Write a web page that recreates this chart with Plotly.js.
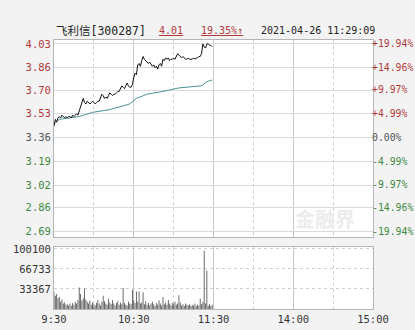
<!DOCTYPE html>
<html>
<head>
<meta charset="utf-8">
<script src="https://cdn.plot.ly/plotly-3.0.1.min.js"></script>
<style>html,body{margin:0;padding:0;background:#f3f3f3;}#chart{width:415px;height:330px;}</style>
</head>
<body>
<div id="chart"></div>
<script>
// ---- data ----
const stockName = "飞利信[300287]";
const lastPrice = "4.01";
const changePct = "19.35%↑";
const timestamp = "2021-04-26 11:29:09";
const preClose = 3.36;

// minutes since 9:30 (trading minutes; 120 = 11:30/13:00, 240 = 15:00)
const priceMin = [0,1,2,3,4,5,6,7,8,9,10,11,12,13,14,15,16,17,18,19,
  20,21,22,23,24,25,26,27,28,29,30,31,32,33,34,35,36,37,38,39,
  40,41,42,43,44,45,46,47,48,49,50,51,52,53,54,55,56,57,58,59,
  60,61,62,63,64,65,66,67,68,69,70,71,72,73,74,75,76,77,78,79,
  80,81,82,83,84,85,86,87,88,89,90,91,92,93,94,95,96,97,98,99,
  100,101,102,103,104,105,106,107,108,109,110,111,112,113,114,115,116,117,118,119];
const priceVal = [3.44,3.49,3.47,3.50,3.51,3.50,3.52,3.51,3.50,3.51,
  3.50,3.51,3.51,3.50,3.52,3.51,3.52,3.53,3.52,3.55,
  3.57,3.60,3.64,3.61,3.60,3.62,3.61,3.60,3.61,3.62,
  3.61,3.60,3.61,3.62,3.62,3.65,3.67,3.66,3.64,3.65,
  3.64,3.66,3.68,3.67,3.66,3.67,3.67,3.68,3.69,3.69,
  3.71,3.73,3.72,3.71,3.73,3.75,3.73,3.72,3.72,3.74,
  3.79,3.82,3.81,3.88,3.89,3.87,3.91,3.94,3.92,3.91,
  3.90,3.89,3.90,3.88,3.87,3.88,3.86,3.87,3.85,3.88,
  3.89,3.87,3.92,3.91,3.93,3.92,3.93,3.91,3.92,3.92,
  3.93,3.92,3.94,3.96,3.95,3.94,3.93,3.94,3.93,3.92,
  3.92,3.93,3.92,3.92,3.92,3.93,3.92,3.93,3.93,3.94,
  3.94,3.96,4.03,4.01,4.00,4.03,4.03,4.02,4.02,4.01];

const avgMin = [0,4,19,29,42,57,62,70,82,94,111,115,118,119];
const avgVal = [3.46,3.49,3.51,3.54,3.56,3.60,3.64,3.67,3.69,3.715,3.73,3.76,3.77,3.77];

const volMin = Array.from({length:120}, (_, i) => i);
const volVal = [
28000,22000,25000,18000,20000,
12000,16000,9000,11000,7000,
8000,6000,9000,5000,10000,
7000,12000,9000,15000,36000,
25000,14000,18000,34000,16000,
12000,9000,14000,7000,11000,
8000,6000,10000,15000,9000,
6000,12000,22000,13000,9000,
7000,17000,11000,8000,15000,
9000,6000,10000,13000,7000,
11000,8000,35000,10000,7000,
6000,12000,9000,8000,32000,
14000,10000,29000,12000,29000,
9000,11000,28000,8000,13000,
7000,10000,6000,9000,12000,
8000,5000,10000,7000,14000,
9000,6000,20000,8000,11000,
7000,15000,9000,6000,10000,
8000,12000,7000,9000,23000,
11000,6000,8000,5000,9000,
7000,6000,8000,5000,7000,
6000,9000,5000,7000,6000,
17000,8000,12000,97000,9000,
64000,6000,8000,5000,7000];

const priceTicks = [4.03,3.86,3.70,3.53,3.36,3.19,3.02,2.86,2.69];
const priceTickText = ["4.03","3.86","3.70","3.53","3.36","3.19","3.02","2.86","2.69"];
const pctTickText = ["+19.94%","+14.96%","+9.97%","+4.99%","0.00%","-4.99%","-9.97%","-14.96%","-19.94%"];
const volTicks = [33367,66733,100100];
const volTickText = ["33367","66733","100100"];
const timeTicks = [0,60,120,180,240];
const timeTickText = ["9:30","10:30","11:30","14:00","15:00"];
const halfHourTicks = [30,90,150,210];

// ---- styling ----
const RED = "#b23a3a", GREEN = "#3f8a3f", GREY = "#555";
function colorFor(v){ return v > preClose + 1e-9 ? RED : (v < preClose - 1e-9 ? GREEN : GREY); }
const leftText = priceTicks.map((v,i)=>`<span style="color:${colorFor(v)}">${priceTickText[i]}</span>`);
const rightText = priceTicks.map((v,i)=>`<span style="color:${colorFor(v)}">${pctTickText[i]}</span>`);

const MONO = "DejaVu Sans Mono, Noto Sans CJK SC, monospace";
const tickFont = {family: MONO, size: 10.5, color: "#333"};

const traces = [
  {x: avgMin, y: avgVal, type: "scatter", mode: "lines", line: {color: "#4a9494", width: 1}, xaxis: "x", yaxis: "y", hoverinfo: "skip"},
  {x: priceMin, y: priceVal, type: "scatter", mode: "lines", line: {color: "#111", width: 1}, xaxis: "x", yaxis: "y", hoverinfo: "skip"},
  {x: [0], y: [preClose], type: "scatter", mode: "markers", marker: {opacity: 0}, xaxis: "x", yaxis: "y3", hoverinfo: "skip"},
  {x: volMin, y: volVal, type: "bar", marker: {color: "#555", line: {width: 0}}, xaxis: "x2", yaxis: "y2", hoverinfo: "skip"}
];

const gridSolid = "#c8c8c8", gridDot = "#cfcfcf";
const commonX = {
  range: [0, 240], tickvals: timeTicks, showgrid: true, gridcolor: gridSolid, gridwidth: 1,
  minor: {tickvals: halfHourTicks, showgrid: true, gridcolor: gridDot, griddash: "dot", gridwidth: 1},
  showline: true, mirror: true, linecolor: "#b5b5b5", linewidth: 1, zeroline: false, ticks: "", fixedrange: true
};

const layout = {
  width: 415, height: 330,
  margin: {l: 54, r: 42, t: 40, b: 21, pad: 0},
  paper_bgcolor: "#f3f3f3", plot_bgcolor: "#ffffff",
  showlegend: false, bargap: 0.35,
  xaxis: Object.assign({}, commonX, {anchor: "y", showticklabels: false}),
  xaxis2: Object.assign({}, commonX, {anchor: "y2", showticklabels: true, ticktext: timeTickText, tickfont: tickFont}),
  yaxis: {
    domain: [0.2677, 1], range: [2.648, 4.058], tickvals: priceTicks, ticktext: leftText,
    tickfont: tickFont, showgrid: true, gridcolor: "#dadada", zeroline: false,
    showline: true, mirror: true, linecolor: "#b5b5b5", ticks: "", fixedrange: true
  },
  yaxis3: {
    overlaying: "y", side: "right", anchor: "x", range: [2.648, 4.058], tickvals: priceTicks, ticktext: rightText,
    tickfont: {family: MONO, size: 9.8, color: "#333"}, ticklabelstandoff: -2,
    showgrid: false, zeroline: false, ticks: "", fixedrange: true
  },
  yaxis2: {
    domain: [0, 0.2305], range: [0, 103300], tickvals: volTicks, ticktext: volTickText,
    tickfont: tickFont, showgrid: true, gridcolor: gridDot, griddash: "dot", zeroline: false,
    showline: true, mirror: true, linecolor: "#b5b5b5", ticks: "", fixedrange: true
  },
  annotations: [
    {text: stockName, xref: "paper", yref: "paper", x: 0, y: 1.034, xanchor: "left", yanchor: "middle", showarrow: false, font: {family: MONO, size: 11.5, color: "#222"}},
    {text: "<u>" + lastPrice + "</u>", xref: "paper", yref: "paper", x: (171-54)/319, y: 1.034, xanchor: "center", yanchor: "middle", showarrow: false, font: {family: MONO, size: 10, color: RED}},
    {text: "<u>" + changePct + "</u>", xref: "paper", yref: "paper", x: (222-54)/319, y: 1.034, xanchor: "center", yanchor: "middle", showarrow: false, font: {family: MONO, size: 10, color: RED}},
    {text: timestamp, xref: "paper", yref: "paper", x: (318-54)/319, y: 1.034, xanchor: "center", yanchor: "middle", showarrow: false, font: {family: MONO, size: 10, color: "#222"}},
    {text: "<b>金融界</b>", xref: "paper", yref: "paper", x: (325-54)/319, y: (309-218)/269, xanchor: "center", yanchor: "middle", showarrow: false, font: {family: "Noto Sans CJK SC", size: 20, color: "#ececec"}}
  ]
};

Plotly.newPlot("chart", traces, layout, {staticPlot: true, displayModeBar: false});
</script>
</body>
</html>
